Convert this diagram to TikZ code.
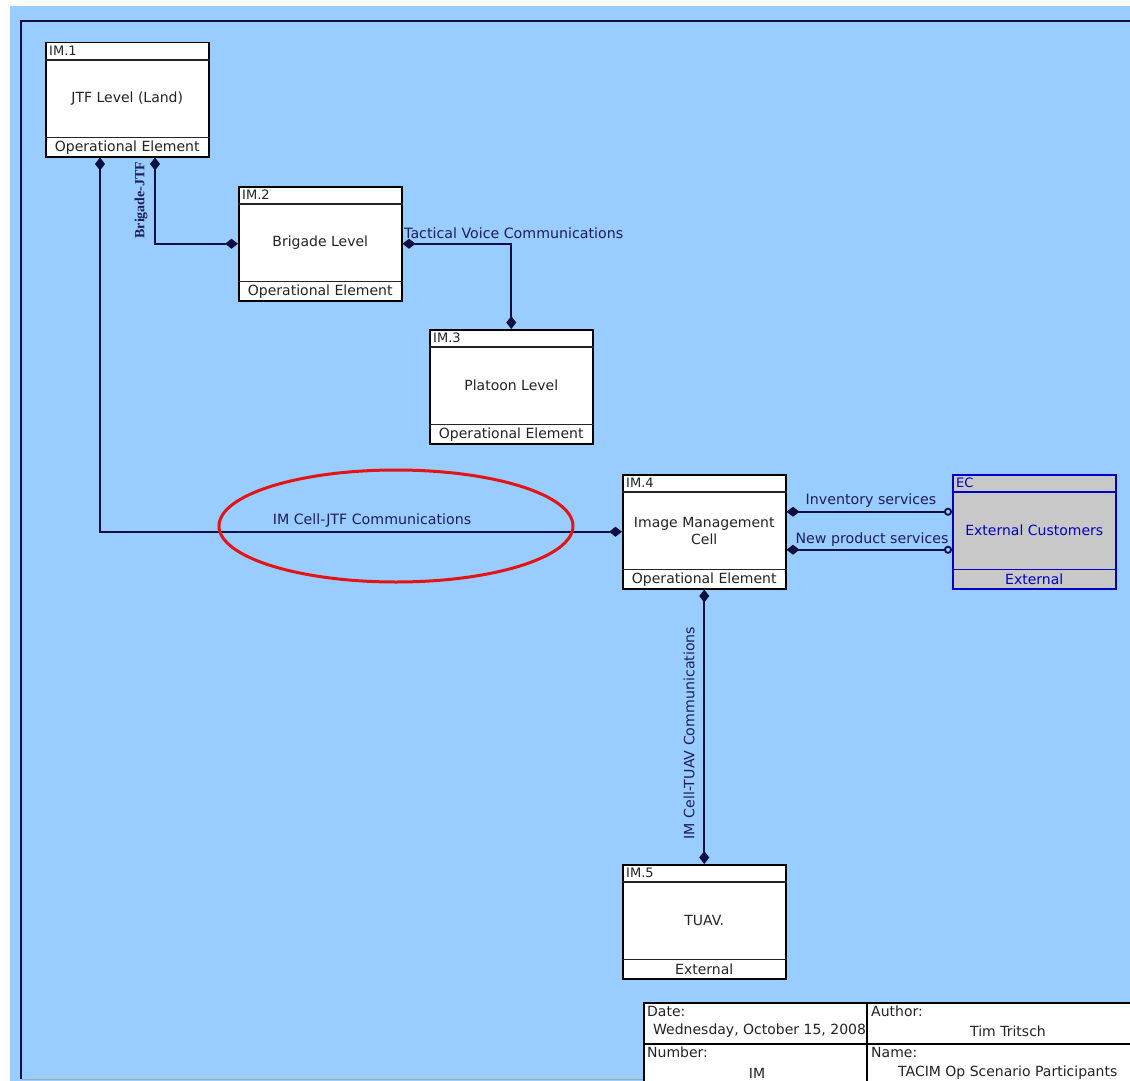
\documentclass[tikz,border=0pt]{standalone}
\usepackage{fontspec}
\setmainfont{DejaVu Sans}
\newfontfamily\labserif{Liberation Serif}
\usetikzlibrary{arrows.meta,calc}
\definecolor{bgblue}{RGB}{153,204,255}
\definecolor{linenavy}{RGB}{16,16,64}
\definecolor{labnavy}{RGB}{30,30,90}
\definecolor{ecblue}{RGB}{0,0,200}
\definecolor{ecgray}{RGB}{200,200,200}
\definecolor{boxtext}{RGB}{35,35,35}
\definecolor{ringred}{RGB}{228,20,20}

\newcommand{\opelem}[8]{%
  \node[#1] (#2) at (#3,#4) {};
  \draw[line width=1.2pt, draw=#8] ([yshift=-18pt]#2.north west) -- ([yshift=-18pt]#2.north east);
  \draw[line width=1.2pt, draw=#8] ([yshift=20pt]#2.south west) -- ([yshift=20pt]#2.south east);
  \node[hdrtext, text=#8] (#2-id) at ([xshift=4pt,yshift=-9pt]#2.north west) {#5};
  \node[ttltext, text=#8] (#2-title) at ([yshift=1pt]#2.center) {#6};
  \node[ftrtext, text=#8] (#2-ftr) at ([yshift=10pt]#2.south) {#7};
}

\begin{document}
\begin{tikzpicture}[x=1pt,y=-1pt,
  elem/.style={draw=black, line width=1.5pt, fill=white, rectangle,
    minimum width=163pt, minimum height=114pt, inner sep=0pt, anchor=north west},
  extelem/.style={elem, draw=ecblue, fill=ecgray},
  hdrtext/.style={font=\fontsize{13}{13}\selectfont, anchor=west, inner sep=0pt},
  ttltext/.style={font=\fontsize{14}{17}\selectfont, align=center, inner sep=0pt},
  ftrtext/.style={font=\fontsize{14}{14}\selectfont, inner sep=0pt},
  conn/.style={draw=linenavy, line width=1.8pt},
  dd/.style={{Diamond[length=13pt,width=10pt]}-{Diamond[length=13pt,width=10pt]}},
  dc/.style={{Diamond[length=13pt,width=10pt]}-{Circle[open,length=8pt,width=8pt]}},
  connlab/.style={font=\fontsize{14.2}{14}\selectfont, text=labnavy, inner sep=0pt},
  cell/.style={draw=black, line width=1.5pt, fill=white, inner sep=0pt, anchor=north west},
  celltext/.style={font=\fontsize{14}{14}\selectfont, inner sep=0pt, text=boxtext},
]
\useasboundingbox (0,0) rectangle (1130,1081);
\clip (0,0) rectangle (1130,1081);
\fill[white] (0,0) rectangle (1130,1081);
\fill[bgblue] (10,6) rectangle (1130,1081);
\draw[linenavy, line width=1.5pt] (1130,21) -- (21,21) -- (21,1079);
\draw[black!35, line width=1pt] (21,1079) -- (643,1079);

% elements
\opelem{elem}{im1}{45}{42}{IM.1}{JTF Level (Land)}{Operational Element}{boxtext}
\opelem{elem}{im2}{238}{186}{IM.2}{Brigade Level}{Operational Element}{boxtext}
\opelem{elem}{im3}{429}{329}{IM.3}{Platoon Level}{Operational Element}{boxtext}
\opelem{elem}{im4}{622}{474}{IM.4}{Image Management\\Cell}{Operational Element}{boxtext}
\opelem{extelem}{ec}{952}{474}{EC}{External Customers}{External}{ecblue}
\opelem{elem}{im5}{622}{864}{IM.5}{TUAV.}{External}{boxtext}

% connectors
\draw[conn, dd] ([xshift=55pt]im1.south west) |- (im4.west);
\draw[conn, dd] ([xshift=110pt]im1.south west) |- (im2.west);
\draw[conn, dd] (im2.east) -| (im3.north);
\draw[conn, dc] ([yshift=20pt]im4.east) -- ([yshift=20pt]ec.west);
\draw[conn, dc] ([yshift=-18pt]im4.east) -- ([yshift=-18pt]ec.west);
\draw[conn, dd] (im4.south) -- (im5.north);

% connector labels
\node[connlab] (l-jtf) at (372,521) {IM Cell-JTF Communications};
\node[connlab, font=\labserif\bfseries\fontsize{14}{14}\selectfont, rotate=90] (l-brig) at (141,200) {Brigade-JTF};
\node[connlab, anchor=west] (l-tac) at (404,233) {Tactical Voice Communications};
\node[connlab] (l-inv) at (871,501) {Inventory services};
\node[connlab] (l-new) at (872,540) {New product services};
\node[connlab, rotate=90] (l-tuav) at (689,733) {IM Cell-TUAV Communications};

% title block
\node[cell, minimum width=223pt, minimum height=41pt] (c-date) at (643,1002) {};
\node[celltext, anchor=north west] (t-date) at (647,1006) {Date:};
\node[celltext, anchor=west] (v-date) at (653,1031) {Wednesday, October 15, 2008};
\node[cell, minimum width=223pt, minimum height=45pt] (c-num) at (643,1043) {};
\node[celltext, anchor=north west] (t-num) at (647,1047) {Number:};
\node[celltext] (v-num) at (757,1073) {IM};
\node[cell, minimum width=300pt, minimum height=41pt] (c-auth) at (866,1002) {};
\node[celltext, anchor=north west] (t-auth) at (871,1006) {Author:};
\node[celltext] (v-auth) at (1008,1031) {Tim Tritsch};
\node[cell, minimum width=300pt, minimum height=45pt] (c-name) at (866,1043) {};
\node[celltext, anchor=north west] (t-name) at (871,1047) {Name:};
\node[celltext, anchor=west] (v-name) at (898,1073) {TACIM Op Scenario Participants};

% highlight ring
\draw[ringred, line width=3pt] (396,526) ellipse [x radius=177, y radius=56];
\end{tikzpicture}
\end{document}
